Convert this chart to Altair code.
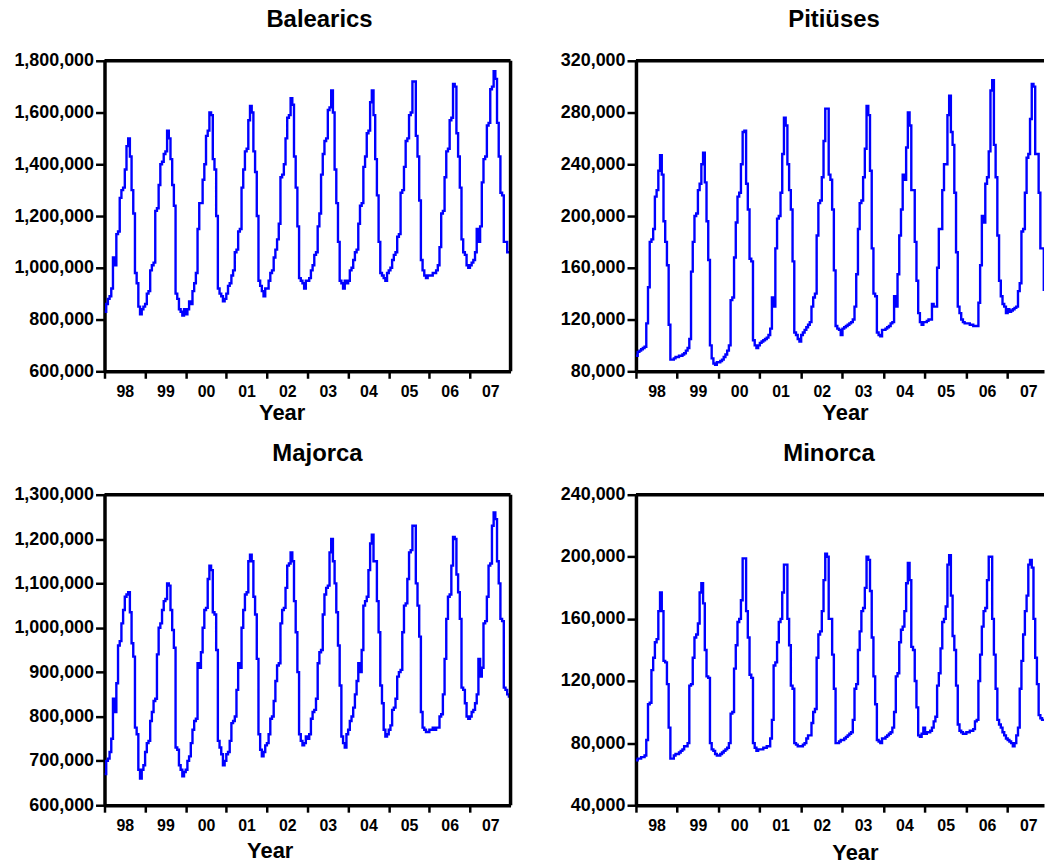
import altair as alt
import pandas as pd

# Semi-monthly levels (thousands of people), Jan 1998 .. Dec 2007, 24 values per year
YEARS = [1998, 1999, 2000, 2001, 2002, 2003, 2004, 2005, 2006, 2007]

BALEARICS_K = [
    830, 860, 880, 890, 920, 1040, 1010, 1130, 1140, 1270, 1300, 1310, 1380, 1470, 1500, 1430, 1300, 1210, 980, 940, 850, 820, 840, 850,
    860, 900, 910, 990, 1010, 1020, 1220, 1230, 1320, 1400, 1410, 1440, 1450, 1530, 1500, 1420, 1320, 1240, 900, 880, 840, 830, 815, 840,
    820, 840, 870, 860, 910, 940, 980, 1150, 1250, 1250, 1340, 1400, 1510, 1530, 1600, 1590, 1420, 1380, 1200, 920, 900, 890, 870, 880,
    900, 930, 940, 970, 990, 1060, 1070, 1140, 1150, 1310, 1380, 1450, 1460, 1570, 1625, 1600, 1450, 1370, 1200, 950, 930, 910, 890, 920,
    920, 950, 980, 990, 1040, 1070, 1110, 1170, 1350, 1360, 1400, 1500, 1580, 1590, 1655, 1630, 1430, 1310, 1160, 960, 950, 940, 920, 950,
    950, 960, 990, 1010, 1050, 1060, 1160, 1210, 1360, 1440, 1490, 1500, 1610, 1620, 1685, 1600, 1380, 1250, 1100, 950, 940, 920, 950, 940,
    950, 990, 1000, 1030, 1060, 1070, 1170, 1240, 1250, 1390, 1430, 1520, 1530, 1640, 1685, 1590, 1420, 1280, 1100, 980, 970, 960, 950, 980,
    990, 1000, 1030, 1050, 1060, 1120, 1130, 1290, 1300, 1390, 1490, 1500, 1590, 1600, 1720, 1720, 1510, 1430, 1260, 1030, 990, 970, 960, 970,
    970, 970, 980, 980, 990, 1010, 1080, 1210, 1220, 1350, 1450, 1460, 1570, 1580, 1710, 1700, 1520, 1430, 1310, 1110, 1060, 1050, 1010, 1000,
    1010, 1020, 1030, 1060, 1150, 1100, 1160, 1330, 1420, 1430, 1550, 1560, 1690, 1700, 1760, 1730, 1560, 1430, 1290, 1280, 1100, 1100, 1060, 1060,
]

PITIUSES_K = [
    92, 95, 96, 97, 98, 99, 117, 145, 180, 182, 190, 215, 220, 235, 247, 232, 196, 180, 162, 116, 89, 89, 90, 91,
    91, 92, 92, 93, 94, 96, 98, 105, 157, 180, 200, 202, 220, 225, 240, 249, 226, 196, 166, 100, 90, 86, 85, 87,
    87, 88, 89, 91, 93, 96, 100, 135, 137, 168, 195, 215, 218, 240, 265, 266, 225, 205, 167, 165, 104, 100, 98, 100,
    102, 103, 104, 105, 106, 108, 113, 137, 130, 175, 198, 200, 218, 248, 276, 270, 240, 220, 205, 165, 110, 108, 105, 103,
    108, 110, 112, 114, 116, 118, 130, 137, 140, 185, 210, 212, 230, 258, 283, 283, 232, 228, 205, 158, 115, 113, 112, 108,
    113, 114, 115, 116, 117, 118, 120, 130, 155, 190, 210, 212, 230, 252, 285, 278, 235, 175, 140, 138, 110, 108, 107, 112,
    112, 113, 114, 115, 117, 118, 138, 130, 155, 185, 205, 232, 228, 253, 280, 270, 220, 220, 180, 150, 125, 118, 116, 118,
    118, 119, 120, 120, 132, 130, 130, 160, 190, 190, 220, 240, 240, 278, 293, 265, 255, 218, 172, 130, 125, 120, 118, 117,
    117, 117, 116, 116, 115, 115, 115, 133, 162, 200, 195, 225, 230, 250, 297, 305, 255, 230, 185, 150, 138, 132, 130, 125,
    128, 126, 127, 128, 129, 130, 142, 148, 188, 190, 218, 245, 248, 275, 302, 300, 248, 248, 218, 175, 175, 143, 140, 138,
]

MAJORCA_K = [
    670, 700, 705, 720, 750, 840, 810, 875, 960, 970, 1010, 1040, 1070, 1075, 1080, 1035, 965, 935, 775, 760, 680, 660, 680, 690,
    720, 740, 745, 790, 810, 835, 840, 940, 1000, 1010, 1040, 1060, 1065, 1100, 1095, 1040, 995, 955, 730, 725, 690, 680, 665, 675,
    680, 700, 710, 740, 770, 790, 795, 920, 910, 945, 1000, 1040, 1045, 1110, 1140, 1130, 1035, 1030, 950, 745, 730, 715, 690, 700,
    715, 720, 745, 785, 790, 800, 860, 920, 910, 1000, 1040, 1075, 1080, 1150, 1165, 1150, 1070, 1030, 930, 760, 725, 710, 720, 735,
    740, 760, 795, 800, 835, 880, 915, 920, 1010, 1040, 1045, 1090, 1140, 1145, 1170, 1150, 1060, 990, 900, 760, 745, 735, 740, 755,
    750, 760, 795, 810, 815, 840, 920, 945, 950, 1030, 1075, 1090, 1095, 1170, 1200, 1150, 1100, 1035, 960, 870, 755, 740, 730, 760,
    770, 790, 800, 820, 850, 880, 920, 900, 950, 1050, 1060, 1070, 1130, 1190, 1210, 1150, 1150, 1060, 990, 870, 830, 770, 755, 760,
    770, 780, 815, 820, 840, 890, 900, 905, 990, 1050, 1055, 1110, 1170, 1175, 1230, 1230, 1100, 1050, 980, 810, 775, 770, 765, 765,
    770, 770, 775, 770, 775, 775, 800, 805, 850, 930, 1020, 1070, 1075, 1140, 1205, 1200, 1120, 1080, 1020, 865, 860, 830, 800, 795,
    800, 810, 815, 830, 850, 930, 890, 910, 1010, 1015, 1070, 1140, 1145, 1230, 1260, 1245, 1150, 1100, 1020, 1015, 865, 860, 850, 845,
]

MINORCA_K = [
    69, 70, 70, 71, 71, 72, 82, 105, 106, 127, 135, 145, 147, 165, 177, 165, 133, 132, 118, 90, 70, 70, 72, 73,
    73, 74, 75, 76, 78, 78, 80, 117, 118, 135, 148, 150, 157, 177, 183, 170, 140, 123, 122, 80, 76, 75, 73, 72,
    72, 73, 74, 75, 76, 77, 80, 99, 100, 128, 143, 158, 160, 172, 199, 199, 165, 148, 124, 122, 80, 77, 75, 76,
    76, 76, 77, 77, 78, 78, 83, 95, 130, 132, 145, 158, 160, 177, 195, 195, 160, 143, 117, 115, 80, 79, 78, 78,
    78, 79, 80, 83, 85, 85, 93, 100, 102, 135, 150, 152, 165, 185, 202, 200, 160, 160, 137, 115, 80, 80, 81, 82,
    82, 83, 84, 85, 86, 87, 95, 115, 118, 140, 152, 165, 167, 180, 200, 198, 178, 148, 123, 105, 82, 81, 80, 83,
    83, 84, 85, 86, 87, 90, 100, 123, 125, 145, 153, 155, 165, 183, 196, 185, 142, 140, 120, 103, 85, 84, 86, 90,
    86, 87, 87, 88, 90, 94, 97, 117, 125, 141, 158, 160, 168, 195, 201, 175, 149, 140, 117, 92, 88, 87, 86, 86,
    87, 87, 88, 88, 89, 94, 95, 120, 137, 155, 165, 167, 185, 200, 200, 160, 137, 115, 95, 92, 90, 87, 85, 83,
    82, 81, 80, 78, 80, 85, 90, 115, 133, 150, 165, 175, 195, 198, 193, 160, 135, 118, 98, 96, 95, 95, 94, 94,
]

FONT = "Liberation Sans"
BLUE = "#0000ff"


def make_df(vals_k):
    n = len(vals_k)
    t = [YEARS[0] + i / 24 for i in range(n)] + [YEARS[0] + n / 24]
    v = [x * 1000 for x in vals_k] + [vals_k[-1] * 1000]
    return pd.DataFrame({"t": t, "v": v})


def panel(name, vals, ymin, ymax, ystep, width, height, xmax,
          title_dx, year_x, year_y, right_border):
    df = make_df(vals)
    px_per_year = width / (xmax - YEARS[0])
    x = alt.X(
        "t:Q",
        scale=alt.Scale(domain=[YEARS[0], xmax], nice=False, zero=False),
        axis=alt.Axis(
            values=YEARS,
            labelExpr="format(datum.value % 100, '02d')",
            labelOffset=px_per_year / 2,
            labelFlush=False,
            labelOverlap=False,
            labelFontSize=16,
            labelPadding=5,
            tickSize=7,
            title="Year",
            titleX=year_x,
            titleY=year_y,
            titleBaseline="alphabetic",
            titleFontSize=22,
        ),
    )
    y = alt.Y(
        "v:Q",
        scale=alt.Scale(domain=[ymin, ymax], nice=False, zero=False),
        axis=alt.Axis(
            values=list(range(ymin, ymax + 1, ystep)),
            format=",d",
            labelFontSize=18,
            labelPadding=2,
            tickSize=9,
            title=None,
        ),
    )
    line = alt.Chart(df).mark_line(
        interpolate="step-after", color=BLUE, strokeWidth=2.4, clip=True
    ).encode(x=x, y=y)
    one = pd.DataFrame({"a": [0]})
    top = alt.Chart(one).mark_rule(color="black", strokeWidth=3.5).encode(
        x=alt.value(0), x2=alt.value(width), y=alt.value(0)
    )
    layers = [line, top]
    if right_border:
        layers.append(
            alt.Chart(one).mark_rule(color="black", strokeWidth=3.5).encode(
                x=alt.value(width), y=alt.value(0), y2=alt.value(height)
            )
        )
    return alt.layer(*layers).properties(
        width=width,
        height=height,
        title=alt.TitleParams(
            name, dx=title_dx, frame="group", fontSize=24, font=FONT,
            fontWeight="bold", color="black", offset=20,
        ),
    )


LW, RW, H = 408, 410, 312
RMAX = 2007.88

p1 = panel("Balearics", BALEARICS_K, 600000, 1800000, 200000, LW, H, 2008,
           12, 178, 48, True)
p2 = panel("Pitiüses", PITIUSES_K, 80000, 320000, 40000, RW, H, RMAX,
           -6, 210, 48, False)
p3 = panel("Majorca", MAJORCA_K, 600000, 1300000, 100000, LW, H, 2008,
           10, 166, 53, True)
p4 = panel("Minorca", MINORCA_K, 40000, 240000, 40000, RW, H, RMAX,
           -11, 220, 55, False)

chart = alt.vconcat(
    alt.hconcat(p1, p2, spacing=47),
    alt.hconcat(p3, p4, spacing=47),
    spacing=19,
).properties(
    padding={"left": 13, "top": 6, "right": 0, "bottom": 0},
    background="white",
).configure_view(stroke=None).configure_axis(
    grid=False,
    domainColor="black",
    domainWidth=3.5,
    tickColor="black",
    tickWidth=2.5,
    labelColor="black",
    labelFont=FONT,
    labelFontWeight="bold",
    titleColor="black",
    titleFont=FONT,
    titleFontWeight="bold",
)

chart.save("out.html", embed_options={"renderer": "svg", "actions": False})
